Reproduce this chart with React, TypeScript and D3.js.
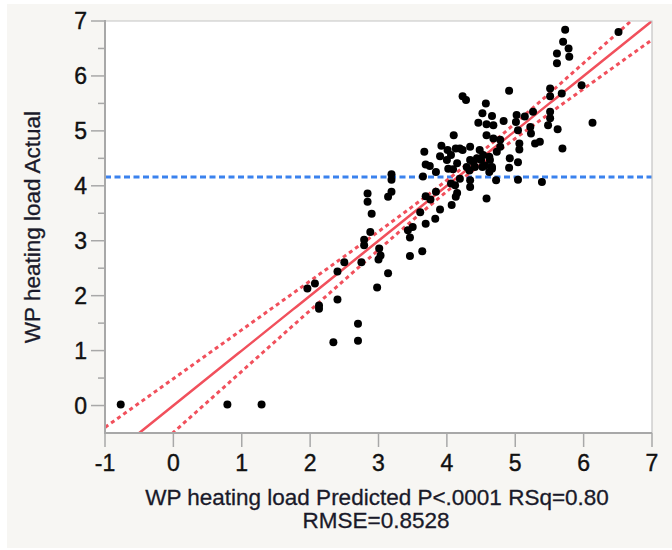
import React, { useRef, useEffect } from "react";
import * as d3 from "d3";

// predicted (x) and actual (y) values
const predicted: number[] = [
  -0.77, 0.79, 1.29, 1.96, 2.07, 2.13, 2.13, 2.34, 2.40, 2.40, 2.50, 2.70, 2.70, 2.75, 2.79, 2.79,
  2.88, 2.98, 3.00, 3.01, 3.03, 3.14, 3.46, 3.46, 2.84, 2.84, 2.90, 3.19, 3.19, 3.19, 3.14, 3.50,
  3.43, 3.64, 3.61, 3.90, 3.83, 3.69, 3.65, 3.69, 3.76, 3.84, 3.67, 3.69, 3.75, 3.84, 3.90, 3.92,
  4.01, 4.10, 4.13, 4.00, 4.02, 4.15, 4.09, 4.06, 4.23, 4.34, 4.34, 4.29, 4.33, 4.19, 4.34, 4.34,
  4.06, 4.15, 4.13, 4.07, 4.23, 4.28, 4.46, 4.52, 4.57, 4.66, 4.58, 4.68, 4.83, 4.58, 4.68, 4.78,
  4.48, 4.53, 4.73, 4.63, 4.66, 4.39, 4.52, 4.62, 4.50, 4.62, 4.92, 5.04, 4.91, 4.72, 5.04, 5.39,
  4.58, 4.91, 5.02, 5.01, 5.04, 5.06, 5.06, 5.22, 5.23, 5.26, 5.36, 5.29, 5.51, 5.51, 5.68, 5.51,
  5.51, 5.48, 5.62, 5.69, 5.73, 5.70, 5.78, 5.79, 5.61, 5.61, 6.51, 5.97, 6.13,
  5.14, 4.78, 4.44, 4.41, 4.56, 4.12, 4.19, 4.66,
];
const actual: number[] = [
  0.02, 0.02, 0.02, 2.13, 2.22, 1.82, 1.76, 1.15, 1.93, 2.44, 2.61, 1.49, 1.18, 2.61, 3.02, 2.92,
  3.16, 2.15, 2.66, 2.86, 2.73, 2.41, 3.06, 2.72, 3.86, 3.71, 3.49, 4.21, 4.11, 3.89, 3.80, 3.25,
  3.19, 2.81, 3.52, 3.57, 3.40, 3.31, 4.17, 3.81, 3.75, 3.89, 4.62, 4.39, 4.36, 4.25, 4.54, 4.73,
  4.65, 4.92, 4.68, 4.47, 4.31, 4.41, 4.30, 4.56, 4.65, 4.71, 4.47, 4.34, 4.28, 4.13, 4.10, 3.98,
  4.04, 3.87, 3.80, 3.65, 5.63, 5.56, 5.15, 5.32, 5.50, 5.27, 5.12, 5.10, 5.18, 4.92, 4.86, 4.84,
  4.65, 4.56, 4.62, 4.47, 4.34, 4.43, 4.34, 4.25, 4.47, 4.53, 4.50, 4.43, 4.33, 4.10, 4.11, 4.07,
  3.77, 5.73, 5.29, 5.16, 5.01, 4.77, 4.66, 5.07, 4.95, 5.35, 4.80, 4.77, 5.77, 5.63, 5.68, 5.35,
  5.23, 5.10, 5.03, 4.68, 6.84, 6.62, 6.50, 6.35, 6.41, 6.23, 6.80, 5.83, 5.15,
  5.26, 4.71, 4.50, 4.34, 4.37, 4.01, 4.68, 4.31,
];

const xTicks = [-1, 0, 1, 2, 3, 4, 5, 6, 7];
const yTicks = [0, 1, 2, 3, 4, 5, 6, 7];
const yMinorTicks = [0.5, 1.5, 2.5, 3.5, 4.5, 5.5, 6.5];

// fit summary
const meanActual = 4.16;
const fitCenter = 4.16;
const bandAtCenter = 0.1;
const bandSlope = 0.115;

const xTitle = "WP heating load Predicted P<.0001 RSq=0.80";
const xTitle2 = "RMSE=0.8528";
const yTitle = "WP heating load Actual";

const App = () => {
  const ref = useRef<HTMLDivElement>(null);

  useEffect(() => {
    if (!ref.current) return;
    ref.current.innerHTML = "";
    const width = 672;
    const height = 550;
    const left = 105, right = 652, top = 21, bottom = 433;
    const font = "'Liberation Sans', Arial, sans-serif";
    const red = "#f1505c";

    const svg = d3
      .select(ref.current)
      .append("svg")
      .attr("width", width)
      .attr("height", height)
      .style("display", "block");

    svg.append("rect").attr("x", 7).attr("y", 4).attr("width", width - 7).attr("height", 544).attr("fill", "#f7f6f3");

    const x = d3.scaleLinear().domain([-1, 7]).range([left, right]);
    const y = d3.scaleLinear().domain([-0.5, 7]).range([bottom, top]);

    svg.append("rect").attr("x", left).attr("y", top).attr("width", right - left).attr("height", bottom - top).attr("fill", "#fff");

    svg.append("clipPath").attr("id", "plotclip")
      .append("rect").attr("x", left).attr("y", top).attr("width", right - left).attr("height", bottom - top);

    const plot = svg.append("g").attr("clip-path", "url(#plotclip)");

    // mean line
    plot.append("line")
      .attr("x1", left).attr("x2", right)
      .attr("y1", y(meanActual)).attr("y2", y(meanActual))
      .attr("stroke", "#3b82ee").attr("stroke-width", 3).attr("stroke-dasharray", "6 3.5");

    // fit line and confidence curves
    const grid = d3.range(-1, 7.001, 0.05);
    const half = (v: number) => Math.sqrt(bandAtCenter * bandAtCenter + bandSlope * bandSlope * (v - fitCenter) * (v - fitCenter));
    const line = d3.line<number[]>().x((d) => x(d[0])).y((d) => y(d[1]));

    plot.append("path")
      .attr("d", line(grid.map((v) => [v, v + half(v)])))
      .attr("fill", "none").attr("stroke", red).attr("stroke-width", 3).attr("stroke-dasharray", "4 3.5");
    plot.append("path")
      .attr("d", line(grid.map((v) => [v, v - half(v)])))
      .attr("fill", "none").attr("stroke", red).attr("stroke-width", 3).attr("stroke-dasharray", "4 3.5");
    plot.append("path")
      .attr("d", line(grid.map((v) => [v, v])))
      .attr("fill", "none").attr("stroke", red).attr("stroke-width", 2.5);

    // points
    plot.selectAll("circle")
      .data(predicted.map((p, i) => [p, actual[i]]))
      .enter()
      .append("circle")
      .attr("cx", (d) => x(d[0]))
      .attr("cy", (d) => y(d[1]))
      .attr("r", 4)
      .attr("fill", "#000");

    // frame
    svg.append("path")
      .attr("d", `M${left},${top}H${right}V${bottom}`)
      .attr("fill", "none").attr("stroke", "#c4c4c4").attr("stroke-width", 1.2);
    svg.append("path")
      .attr("d", `M${left},${top - 1}V${bottom}H${right}`)
      .attr("fill", "none").attr("stroke", "#a8a8a8").attr("stroke-width", 2);

    // y axis
    const yAxis = svg.append("g");
    yAxis.selectAll("line.major").data(yTicks).enter().append("line")
      .attr("x1", left - 14).attr("x2", left)
      .attr("y1", (d) => y(d)).attr("y2", (d) => y(d))
      .attr("stroke", "#a8a8a8").attr("stroke-width", 1.5);
    yAxis.selectAll("line.minor").data(yMinorTicks).enter().append("line")
      .attr("x1", left - 7).attr("x2", left)
      .attr("y1", (d) => y(d)).attr("y2", (d) => y(d))
      .attr("stroke", "#a8a8a8").attr("stroke-width", 1.5);
    yAxis.selectAll("text").data(yTicks).enter().append("text")
      .attr("x", left - 18)
      .attr("y", (d) => y(d))
      .attr("dy", "0.36em")
      .attr("text-anchor", "end")
      .style("font-family", font).style("font-size", "23px").style("fill", "#111")
      .style("stroke", "#111").style("stroke-width", 0.4)
      .text((d) => d3.format("d")(d));

    // x axis
    const xAxis = svg.append("g");
    xAxis.selectAll("line").data(xTicks).enter().append("line")
      .attr("x1", (d) => x(d)).attr("x2", (d) => x(d))
      .attr("y1", bottom).attr("y2", bottom + 14)
      .attr("stroke", "#a8a8a8").attr("stroke-width", 1.5);
    xAxis.selectAll("text").data(xTicks).enter().append("text")
      .attr("x", (d) => x(d))
      .attr("y", 471)
      .attr("text-anchor", "middle")
      .style("font-family", font).style("font-size", "23px").style("fill", "#111")
      .style("stroke", "#111").style("stroke-width", 0.4)
      .text((d) => (d < 0 ? "-" + Math.abs(d) : String(d)));

    // titles
    const title = (t: string, tx: number, ty: number, rot = false) =>
      svg.append("text")
        .attr("transform", `translate(${tx},${ty})` + (rot ? " rotate(-90)" : ""))
        .attr("text-anchor", "middle")
        .style("font-family", font).style("font-size", "22.5px").style("fill", "#1a1a2a")
        .style("stroke", "#1a1a2a").style("stroke-width", 0.3)
        .text(t);
    title(xTitle, 377, 505);
    title(xTitle2, 376, 528);
    title(yTitle, 40, 227, true);
  }, []);

  return <div ref={ref} style={{ position: "absolute", left: 0, top: 0 }}></div>;
};

export default App;
